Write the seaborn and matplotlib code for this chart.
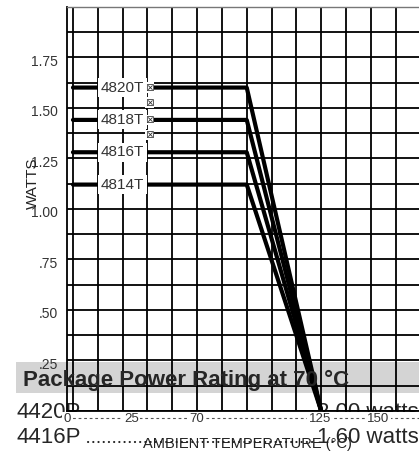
import numpy as np
import pandas as pd
import matplotlib
matplotlib.use('Agg')
import matplotlib.pyplot as plt
import seaborn as sns
from matplotlib.patches import Rectangle
from matplotlib.lines import Line2D
from matplotlib.transforms import ScaledTranslation

# derating curves: flat rating up to 70 °C, zero at 125 °C
parts = ['4820T', '4818T', '4816T', '4814T']
rated_watts = [1.60, 1.44, 1.28, 1.12]
derate_temp = [0, 70, 125]
derate_frac = [1.0, 1.0, 0.0]
flagged = ['4820T', '4818T']   # labels that carry the stray box glyphs

# axis labels
x_tick_labels = ['0', '25', '70', '125', '150']
y_tick_vals = [0.25, 0.50, 0.75, 1.00, 1.25, 1.50, 1.75]
y_tick_labels = ['.25', '.50', '.75', '1.00', '1.25', '1.50', '1.75']

# package power table under the chart
pkg_parts = ['4420P', '4416P']
pkg_ratings = ['2.00 watts', '1.60 watts']

W, H = 419, 451


def fx(px):
    return px / W


def fy(py):
    return 1 - py / H


def temp_to_col(t):
    # the chart's grid is not linear in temperature
    return np.interp(t, [0, 70, 125], [0, 7, 10])


sns.set_style('white')
plt.rcParams['font.family'] = ['Liberation Sans', 'DejaVu Sans']

fig = plt.figure(figsize=(W / 100, H / 100), dpi=100)
ax = fig.add_axes([fx(67), fy(411), 14 * 25.25 / W, (411 - 6.7) / H])
ax.set_facecolor('none')

rows = []
for part, w in zip(parts, rated_watts):
    for t, f in zip(derate_temp, derate_frac):
        rows.append((part, temp_to_col(t), w * f))
df = pd.DataFrame(rows, columns=['part', 'col', 'watts'])

sns.lineplot(data=df, x='col', y='watts', units='part', estimator=None,
             color='black', lw=3, sort=False, legend=False, ax=ax)

ax.set_xlim(0, 14)
ax.set_ylim(0, 2.0)
ax.xaxis.remove_overlapping_locs = False
ax.yaxis.remove_overlapping_locs = False
ax.set_xticks(np.arange(0, 15), minor=True)
ax.set_yticks(np.arange(0, 2.001, 0.125), minor=True)
ax.grid(which='minor', color='black', lw=1.3)
ax.grid(which='major', visible=False)
ax.set_axisbelow(True)

ax.set_xticks([-0.24, 2.35, 5.0, 9.95, 12.3], x_tick_labels)
ax.set_yticks(y_tick_vals, y_tick_labels)
ax.tick_params(which='both', length=0)
ax.tick_params(axis='y', pad=6.5, labelsize=10, labelcolor='#333333')
ax.tick_params(axis='x', pad=1.5, labelsize=9.5, labelcolor='#333333')
for lbl in ax.get_xticklabels():
    lbl.set_bbox(dict(fc='white', ec='none', pad=1.0))
for lbl in ax.get_yticklabels():
    lbl.set_transform(lbl.get_transform() + ScaledTranslation(0, -0.03, fig.dpi_scale_trans))

for side in ['left', 'bottom']:
    ax.spines[side].set_color('black')
    ax.spines[side].set_linewidth(1.3)
ax.spines['top'].set_color('#777777')
ax.spines['top'].set_linewidth(1.0)
ax.spines['right'].set_visible(False)

ax.set_xlabel('AMBIENT TEMPERATURE (°C)', fontsize=10.5, color='#222222')
ax.xaxis.set_label_coords((247.5 - 67) / 353.5, -(448 - 411) / 404.3)
ax.xaxis.label.set_va('baseline')
ax.set_ylabel('WATTS', fontsize=11, color='#222222')
ax.yaxis.set_label_coords((33 - 67) / 353.5, (411 - 183) / 404.3)
ax.yaxis.label.set_va('center')

# curve labels sitting on the flat part of each line
for part, w in zip(parts, rated_watts):
    ax.text(2.0, w, part, ha='center', va='center', fontsize=11, color='#333333',
            bbox=dict(fc='white', ec='none', pad=1.8), zorder=4)
    if part in flagged:
        for dy in [0.0, -0.075]:
            ax.text(3.08, w + dy, '⊠', ha='center', va='center', fontsize=7.5,
                    color='#333333', bbox=dict(fc='white', ec='none', pad=0.2), zorder=5)

# grey band with the package rating heading
fig.add_artist(Rectangle((fx(16), fy(393.3)), 1, (393.3 - 361.7) / H,
                         transform=fig.transFigure, fc='#d4d4d4', ec='none', zorder=-2))
fig.text(fx(23), fy(386), 'Package Power Rating at 70 °C', fontsize=16,
         fontweight='bold', va='baseline', ha='left', zorder=3)

# package rows, first one partly hidden behind the tick row
row_y = [418.5, 443]
for part, rating, y in zip(pkg_parts, pkg_ratings, row_y):
    fig.text(fx(16), fy(y), part, fontsize=16, va='baseline', ha='left', zorder=-1)
    fig.text(fx(317), fy(y), rating, fontsize=16, va='baseline', ha='left', zorder=-1)

fig.add_artist(Rectangle((fx(66), fy(426)), 1, (426 - 411.8) / H,
                         transform=fig.transFigure, fc='white', ec='none', zorder=-0.8))
fig.add_artist(Line2D([fx(67), fx(419)], [fy(418), fy(418)], transform=fig.transFigure,
                      color='#555555', lw=0.8, ls=(0, (2.5, 2.5)), zorder=-0.6))
fig.add_artist(Line2D([fx(88), fx(315)], [fy(442), fy(442)], transform=fig.transFigure,
                      color='#222222', lw=1.5, ls=(0, (0.1, 2.4)), solid_capstyle='round',
                      dash_capstyle='round', zorder=-0.6))

fig.savefig('out.png', dpi=100)
